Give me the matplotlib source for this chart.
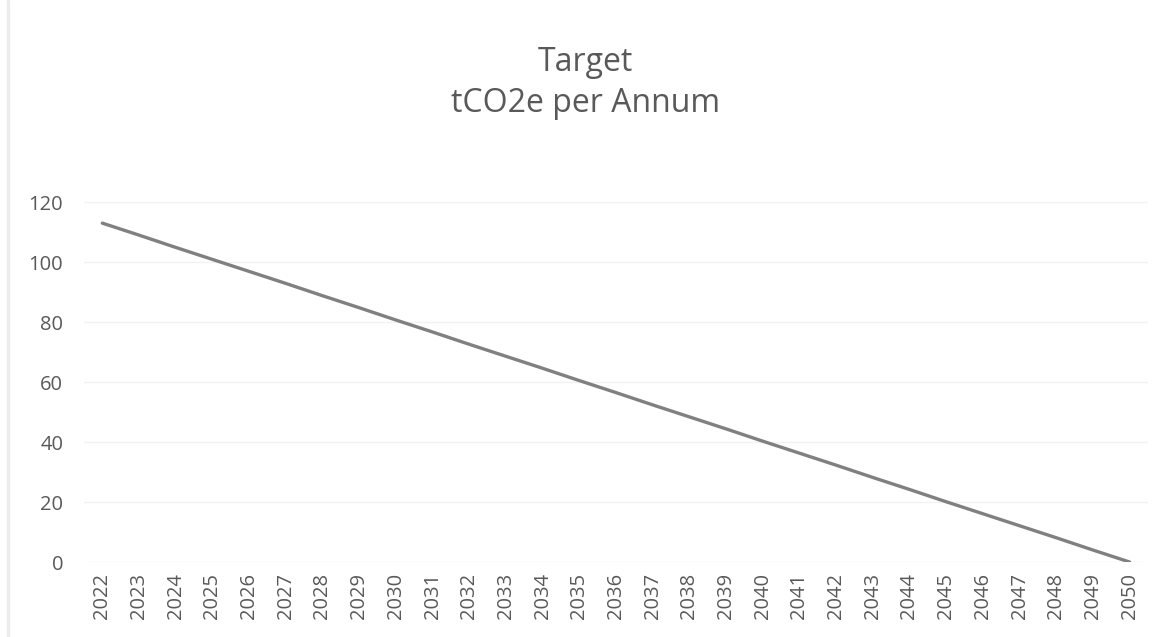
import matplotlib
matplotlib.use("Agg")
import matplotlib.pyplot as plt
from matplotlib.patches import Rectangle

# Data
years = list(range(2022, 2051))
target = [113.0, 109.0, 104.9, 100.9, 96.9, 92.9, 88.8, 84.8, 80.7, 76.7,
          72.6, 68.6, 64.6, 60.5, 56.5, 52.4, 48.4, 44.4, 40.3, 36.3,
          32.3, 28.2, 24.2, 20.1, 16.1, 12.1, 8.1, 4.0, 0.0]
yticks = [0, 20, 40, 60, 80, 100, 120]

plt.rcParams['font.family'] = ['Open Sans', 'DejaVu Sans']

fig = plt.figure(figsize=(11.71, 6.37), dpi=100)
ax = fig.add_axes([0.0717, 0.1177, 0.9086, 0.565])

# faint chart border on the left
fig.patches.append(Rectangle((0.006, 0.0), 0.002, 1.0, transform=fig.transFigure,
                             color="#ececec", zorder=0))

x = list(range(len(years)))
ax.plot(x, target, color="#808080", linewidth=2.4, solid_capstyle="round")

ax.set_xlim(-0.5, len(years) - 0.5)
ax.set_ylim(0, 120)
ax.set_yticks(yticks)
ax.set_xticks(x)
ax.set_xticklabels([str(y) for y in years], rotation=90)
ax.tick_params(axis="both", length=0, colors="#595959", labelsize=14.5)
ax.tick_params(axis="y", pad=15)
ax.tick_params(axis="x", pad=8)
ax.grid(axis="y", color="#f2f2f2", linewidth=1)
ax.set_axisbelow(True)
for s in ax.spines.values():
    s.set_visible(False)

fig.text(0.5, 0.902, "Target", ha="center", va="center", fontsize=23, color="#595959")
fig.text(0.5, 0.838, "tCO2e per Annum", ha="center", va="center", fontsize=23, color="#595959")

fig.savefig("out.png", dpi=100)
